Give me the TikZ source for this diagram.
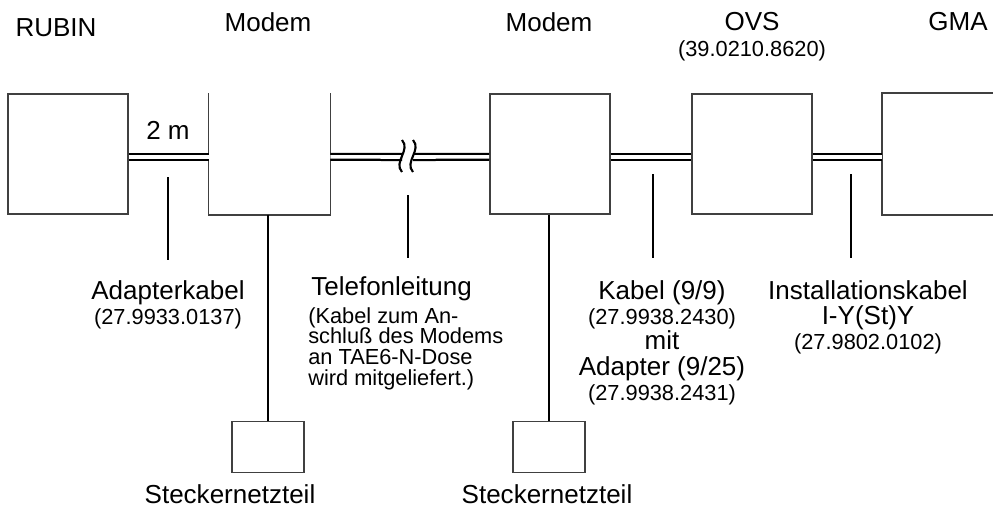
\documentclass[tikz,border=0pt]{standalone}
\usepackage{fontspec}
\setmainfont{Liberation Sans}
\usetikzlibrary{positioning}

\begin{document}
\begin{tikzpicture}[x=0.025cm, y=-0.025cm,
  unit/.style={draw=black!75, line width=1.2pt, minimum width=3cm, minimum height=3cm, inner sep=0pt},
  boxline/.style={draw=black!75, line width=1.2pt},
  psu/.style={draw=black!75, line width=1.2pt, minimum width=1.8cm, minimum height=1.28cm, inner sep=0pt},
  cable/.style={double, double distance=2.5pt, line width=1.6pt},
  leader/.style={line width=1.5pt},
  big/.style={font=\fontsize{18.5}{18}\selectfont, inner sep=0pt},
  small/.style={font=\fontsize{15.5}{18}\selectfont, inner sep=0pt}]
  \useasboundingbox (0,0) rectangle (993,515);

  % Titles
  \node[big] (tRubin) at (56,28) {RUBIN};
  \node[big] (tModemA) at (268,22) {Modem};
  \node[big] (tModemB) at (549,22) {Modem};
  \node[big] (tOvs) at (752,22) {OVS};
  \node[small, below=6pt of tOvs] (tOvsNr) {(39.0210.8620)};
  \node[big] (tGma) at (958,22) {GMA};

  % Devices
  \node[unit] (rubin) at (68,154) {};
  \node[unit, draw=none] (modemA) at (269.5,154) {};
  \draw[boxline] (modemA.north west) -- (modemA.south west) -- (modemA.south east) -- (modemA.north east);
  \node[unit] (modemB) at (550,154) {};
  \node[unit] (ovs) at (752,154) {};
  \node[unit, draw=none, minimum width=2.75cm] (gma) at (938,154) {};
  \draw[boxline] (gma.north east) -- (gma.north west) -- (gma.south west) -- (gma.south east);

  % Cables
  \coordinate (brkL) at (402,157);
  \coordinate (brkR) at (413,157);
  \draw[cable] ([yshift=-2.1pt]rubin.east) -- ([yshift=-2.1pt]modemA.west);
  \draw[cable] ([yshift=-2.1pt]modemA.east) -- (brkL);
  \draw[cable] (brkR) -- ([yshift=-2.1pt]modemB.west);
  \draw[cable] ([yshift=-2.1pt]modemB.east) -- ([yshift=-2.1pt]ovs.west);
  \draw[cable] ([yshift=-2.1pt]ovs.east) -- ([yshift=-2.1pt]gma.west);
  \draw[leader] (402,140) .. controls (411,150) and (393,162) .. (402,172);
  \draw[leader] (413,140) .. controls (422,150) and (404,162) .. (413,172);
  \node[big] (len) at (168,130) {2 m};

  % Power supplies
  \node[psu] (psuA) at (268,447) {};
  \node[psu] (psuB) at (549,447) {};
  \draw[leader] (psuA.north |- modemA.south) -- (psuA.north);
  \draw[leader] (psuB.north |- modemB.south) -- (psuB.north);
  \node[big] (lPsuA) at (230,494) {Steckernetzteil};
  \node[big] (lPsuB) at (547,494) {Steckernetzteil};

  % Leaders
  \coordinate (ldA1) at (168,177); \coordinate (ldA2) at (168,260);
  \coordinate (ldB1) at (408,195); \coordinate (ldB2) at (408,258);
  \coordinate (ldC1) at (653,174); \coordinate (ldC2) at (653,258);
  \coordinate (ldD1) at (851,174); \coordinate (ldD2) at (851,258);
  \draw[leader] (ldA1) -- (ldA2);
  \draw[leader] (ldB1) -- (ldB2);
  \draw[leader] (ldC1) -- (ldC2);
  \draw[leader] (ldD1) -- (ldD2);

  % Cable labels
  \node[big, align=center, anchor=north] (lAdapter) at (168,280) {Adapterkabel\\{\fontsize{15.5}{18}\selectfont (27.9933.0137)}};
  \node[big, anchor=north west] (lTel) at (311,276) {Telefonleitung};
  \node[small, align=left, anchor=north west, font=\fontsize{15.5}{14.8}\selectfont] (lTelTxt) at (308,307) {(Kabel zum An-\\schluß des Modems\\an TAE6-N-Dose\\wird mitgeliefert.)};
  \node[big, align=center, anchor=north] (lKabel) at (662,280) {Kabel (9/9)\\{\fontsize{15.5}{18}\selectfont (27.9938.2430)}\\mit\\Adapter (9/25)\\{\fontsize{15.5}{18}\selectfont (27.9938.2431)}};
  \node[big, align=center, anchor=north] (lInst) at (868,280) {Installationskabel\\I-Y(St)Y\\{\fontsize{15.5}{18}\selectfont (27.9802.0102)}};
\end{tikzpicture}
\end{document}
